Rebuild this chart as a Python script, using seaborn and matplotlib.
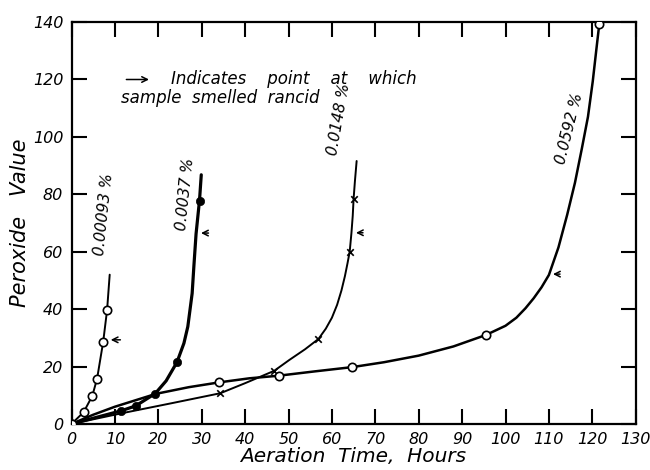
import matplotlib
matplotlib.use('Agg')
import matplotlib.pyplot as plt
import seaborn as sns

# measured points (markers) for each concentration
pts_00093_x = [0, 2.8, 4.8, 5.9, 7.3, 8.2]
pts_00093_y = [0, 4.1, 9.8, 15.8, 28.6, 39.7]
pts_0037_x = [0, 11.5, 14.8, 19.3, 24.3, 29.5]
pts_0037_y = [0, 4.6, 6.3, 10.6, 21.5, 77.5]
pts_0148_x = [0, 34.3, 46.7, 56.9, 64.1, 65.0]
pts_0148_y = [0, 10.7, 18.5, 29.6, 60.0, 78.4]
pts_0592_x = [0, 34.1, 47.7, 64.7, 95.5, 121.6]
pts_0592_y = [0, 14.5, 16.8, 19.8, 31.0, 139.2]

# hand-drawn curves
crv_00093_x = [0, 2.8, 4.8, 5.9, 7.3, 8.2, 8.8]
crv_00093_y = [0, 4.1, 9.8, 15.8, 28.6, 39.7, 52.0]
crv_0037_x = [0, 11.5, 14.8, 19.3, 21.8, 24.3, 25.9, 26.8, 27.8, 28.2, 28.7, 29.5, 29.9]
crv_0037_y = [0, 4.6, 6.3, 10.6, 15.0, 21.5, 28.1, 33.9, 45.5, 55.0, 66.2, 78.0, 86.8]
crv_0148_x = [0, 11.5, 23.0, 34.3, 40.0, 46.7, 50.2, 53.8, 56.9, 58.6, 60.0, 61.2, 62.2, 63.0,
              63.6, 64.1, 64.5, 64.8, 65.0, 65.3, 65.7]
crv_0148_y = [0, 3.7, 7.2, 10.7, 14.2, 18.5, 22.3, 26.0, 29.6, 33.2, 37.0, 41.5, 46.5, 51.5,
              56.0, 60.0, 66.5, 72.5, 78.4, 84.5, 91.6]
crv_0592_x = [0, 5, 10, 19.5, 27, 34.1, 41, 47.7, 56, 64.7, 72, 80, 88, 95.5, 100, 102.5,
              104.6, 106.5, 108.3, 110.0, 112.2, 114.2, 116.0, 117.6, 119.0, 120.1, 120.9, 121.6]
crv_0592_y = [0, 3.2, 6.0, 10.5, 12.8, 14.5, 15.9, 16.8, 18.3, 19.8, 21.5, 23.8, 27.0, 31.0,
              34.2, 37.0, 40.3, 43.8, 47.6, 51.9, 61.5, 72.8, 84.0, 96.0, 107.0, 119.3, 130.0, 139.2]

conc_labels = ['0.00093 %', '0.0037 %', '0.0148 %', '0.0592 %']
label_pos = [(7.5, 73), (26.2, 80), (61.6, 106), (114.8, 103)]
label_rot = [84, 84, 80, 76]

# "smelled rancid" arrows: (tail x, tip x, y)
rancid = [(11.9, 8.4, 29.3), (32.2, 29.2, 66.5), (67.8, 64.9, 66.6), (113.2, 110.3, 52.2)]

sns.set_style('ticks')
plt.rcParams['font.family'] = ['DejaVu Sans']
plt.rcParams['font.style'] = 'italic'
plt.rcParams['text.color'] = 'black'
plt.rcParams['axes.labelcolor'] = 'black'
plt.rcParams['xtick.color'] = 'black'
plt.rcParams['ytick.color'] = 'black'
plt.rcParams['axes.edgecolor'] = 'black'

fig = plt.figure(figsize=(6.5, 4.7), dpi=100)
ax = fig.add_axes([0.110, 0.098, 0.868, 0.855])

curves = [(crv_00093_x, crv_00093_y, 1.4), (crv_0037_x, crv_0037_y, 2.3),
          (crv_0148_x, crv_0148_y, 1.4), (crv_0592_x, crv_0592_y, 1.8)]
for cx, cy, lw in curves:
    sns.lineplot(x=cx, y=cy, sort=False, estimator=None, color='black', lw=lw, ax=ax)

ms = 36
sns.scatterplot(x=pts_00093_x, y=pts_00093_y, marker='o', s=ms, facecolor='white',
                edgecolor='black', linewidth=1.2, zorder=5, ax=ax)
sns.scatterplot(x=pts_0037_x, y=pts_0037_y, marker='o', s=ms, color='black',
                edgecolor='black', zorder=5, ax=ax)
sns.scatterplot(x=pts_0148_x, y=pts_0148_y, marker='x', s=22, color='black',
                linewidth=1.2, zorder=5, ax=ax)
sns.scatterplot(x=pts_0592_x, y=pts_0592_y, marker='o', s=ms, facecolor='white',
                edgecolor='black', linewidth=1.2, zorder=5, ax=ax)

for (tx, hx, y) in rancid:
    ax.annotate('', xy=(hx, y), xytext=(tx, y),
                arrowprops=dict(arrowstyle='->', color='black', lw=1.1))

for lab, (lx, ly), r in zip(conc_labels, label_pos, label_rot):
    ax.text(lx, ly, lab, rotation=r, ha='center', va='center', fontsize=11)

# key
ax.annotate('', xy=(18.5, 120), xytext=(12.0, 120),
            arrowprops=dict(arrowstyle='->', color='black', lw=1.1))
ax.text(23, 120, 'Indicates    point    at    which', fontsize=12, va='center')
ax.text(11.3, 113.5, 'sample  smelled  rancid', fontsize=12, va='center')

ax.set_xlim(0, 130)
ax.set_ylim(0, 140)
ax.set_xticks(range(0, 131, 10))
ax.set_yticks(range(0, 141, 20))
ax.tick_params(direction='in', length=11, width=1.5, top=True, right=True,
               labelsize=11.5, pad=6)
for sp in ax.spines.values():
    sp.set_linewidth(1.6)
ax.set_xlabel('Aeration  Time,  Hours', fontsize=14.5, labelpad=0)
ax.set_ylabel('Peroxide   Value', fontsize=15, labelpad=2)

plt.savefig('out.png', dpi=100)
